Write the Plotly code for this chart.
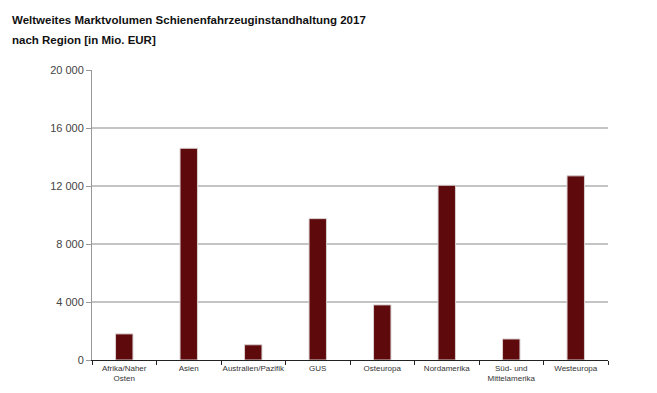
import plotly.graph_objects as go

categories = ["Afrika/Naher<br>Osten", "Asien", "Australien/Pazifik", "GUS", "Osteuropa",
              "Nordamerika", "Süd- und<br>Mittelamerika", "Westeuropa"]
values = [1800, 14600, 1050, 9750, 3800, 12050, 1450, 12700]
y_ticks = [0, 4000, 8000, 12000, 16000, 20000]
y_tick_labels = ["0", "4 000", "8 000", "12 000", "16 000", "20 000"]
title_lines = ["Weltweites Marktvolumen Schienenfahrzeuginstandhaltung 2017",
               "nach Region [in Mio. EUR]"]

# page has an 8px body margin; figure size/margins compensate for it
fig = go.Figure(go.Bar(
    x=categories, y=values,
    marker=dict(color="#5e0a0c", line=dict(color="#d9cfcf", width=1)),
    width=0.27,
))

annotations = []
for i, line in enumerate(title_lines):
    annotations.append(dict(
        text="<b>" + line + "</b>", xref="paper", yref="paper",
        x=-82 / 516, xanchor="left", y=1 + (50 - 20 * i) / 290, yanchor="middle",
        showarrow=False, font=dict(size=11.5, color="#111111"),
    ))

fig.update_layout(
    width=649, height=385,
    margin=dict(l=84, r=49, t=62, b=33, autoexpand=False),
    paper_bgcolor="white", plot_bgcolor="white",
    font=dict(family="Liberation Sans, Arial, sans-serif", color="#333333"),
    annotations=annotations,
    showlegend=False,
    bargap=0.73,
)
fig.update_xaxes(
    type="category", tickson="boundaries", ticks="outside", ticklen=4, tickcolor="#222222",
    showline=True, linecolor="#222222", linewidth=1, tickangle=0, automargin=False,
    tickfont=dict(size=8, color="#333333"), showgrid=False,
)
fig.update_yaxes(
    range=[0, 20000], tickvals=y_ticks, ticktext=y_tick_labels, automargin=False,
    ticks="outside", ticklen=5, tickcolor="#999999",
    showline=True, linecolor="#999999", linewidth=1,
    showgrid=True, gridcolor="#c4c4c4", gridwidth=1.5,
    tickfont=dict(size=11, color="#444444"), zeroline=False,
)

fig.write_html("out.html")
